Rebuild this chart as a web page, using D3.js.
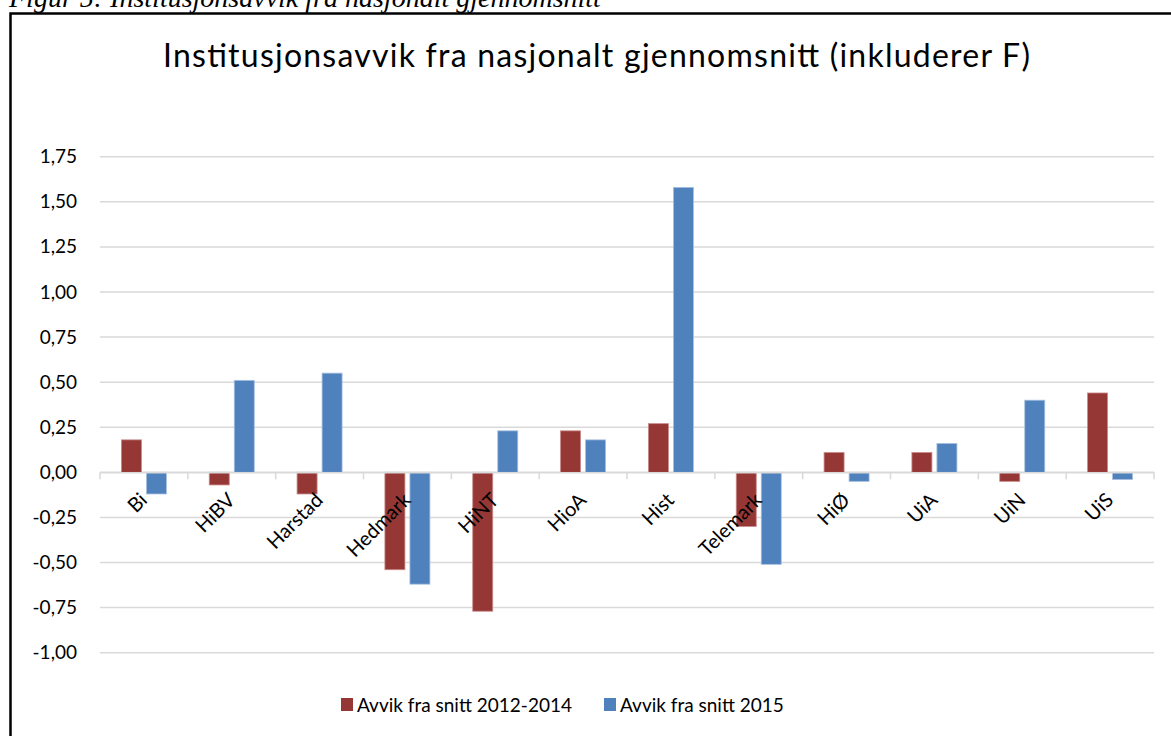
<!DOCTYPE html>
<html>
<head>
<meta charset="utf-8">
<script src="https://cdn.jsdelivr.net/npm/d3@7"></script>
<style>
  html, body { margin: 0; padding: 0; background: #fff; }
  svg { display: block; }
</style>
</head>
<body>
<svg id="chart" width="1171" height="736"></svg>
<script>
const categories = ["Bi", "HiBV", "Harstad", "Hedmark", "HiNT", "HioA", "Hist", "Telemark", "HiØ", "UiA", "UiN", "UiS"];
const seriesNames = ["Avvik fra snitt 2012-2014", "Avvik fra snitt 2015"];
const avvik2012_2014 = [0.18, -0.07, -0.12, -0.54, -0.77, 0.23, 0.27, -0.30, 0.11, 0.11, -0.05, 0.44];
const avvik2015 = [-0.12, 0.51, 0.55, -0.62, 0.23, 0.18, 1.58, -0.51, -0.05, 0.16, 0.40, -0.04];
const yTicks = [1.75, 1.5, 1.25, 1.0, 0.75, 0.5, 0.25, 0, -0.25, -0.5, -0.75, -1.0];
const seriesColors = ["#953735", "#4F81BD"];
const captionText = "Figur 5: Institusjonsavvik fra nasjonalt gjennomsnitt";
const titleText = "Institusjonsavvik fra nasjonalt gjennomsnitt (inkluderer F)";

const svg = d3.select("#chart");
const font = "Lato, 'Open Sans', sans-serif";

// Caption (cut off at top)
svg.append("text")
  .attr("x", 9).attr("y", 6.5)
  .attr("font-family", "'Liberation Serif', 'Times New Roman', serif")
  .attr("font-style", "italic")
  .attr("font-size", 28)
  .attr("fill", "#000")
  .text(captionText);

// Chart border
svg.append("path")
  .attr("d", "M10.5,740 V13.5 H1175")
  .attr("fill", "none").attr("stroke", "#000").attr("stroke-width", 2.5);

const x0 = d3.scaleBand().domain(categories).range([100, 1154]).paddingInner(0).paddingOuter(0);
const x1 = d3.scaleBand().domain([0, 1]).range([0, x0.bandwidth()]).paddingInner(0.2).paddingOuter(0.856);
const y = d3.scaleLinear().domain([-1.0, 1.75]).range([652.7, 156.7]);

// Gridlines
svg.append("g").selectAll("line").data(yTicks).join("line")
  .attr("x1", 100).attr("x2", 1154)
  .attr("y1", d => y(d)).attr("y2", d => y(d))
  .attr("stroke", "#d9d9d9").attr("stroke-width", 1.5);

// Y axis labels
const yAxis = d3.axisLeft(y).tickValues(yTicks).tickSize(0).tickPadding(0)
  .tickFormat(d => d3.format(".2f")(d).replace(".", ",").replace("−", "-"));
const yg = svg.append("g").attr("transform", "translate(77,0)").call(yAxis);
yg.select(".domain").remove();
yg.selectAll("text").attr("font-family", font).attr("font-size", 19).attr("fill", "#000");

// Bars
const data = categories.map((c, i) => ({ c, v: [avvik2012_2014[i], avvik2015[i]] }));
const groups = svg.append("g").selectAll("g").data(data).join("g")
  .attr("transform", d => `translate(${x0(d.c)},0)`);
groups.selectAll("rect").data(d => d.v.map((v, s) => ({ v, s }))).join("rect")
  .attr("x", d => x1(d.s))
  .attr("width", x1.bandwidth())
  .attr("y", d => Math.min(y(0), y(d.v)))
  .attr("height", d => Math.abs(y(d.v) - y(0)))
  .attr("fill", d => seriesColors[d.s])
  .attr("stroke", d => d.s === 0 ? "#c98a89" : "#a7c0df")
  .attr("stroke-width", 0.8);

// X axis line with ticks
const xAxis = d3.axisBottom(x0).tickSize(0).tickFormat("");
const xg = svg.append("g").attr("transform", `translate(0,${y(0)})`).call(xAxis);
xg.select(".domain").attr("stroke", "#d9d9d9").attr("stroke-width", 1.5);
const tickPos = categories.map(c => x0(c)).concat([x0.range()[1]]);
svg.append("g").selectAll("line").data(tickPos).join("line")
  .attr("x1", d => d).attr("x2", d => d)
  .attr("y1", y(0)).attr("y2", y(0) + 7)
  .attr("stroke", "#d9d9d9").attr("stroke-width", 1.5);

// X labels rotated
svg.append("g").selectAll("text").data(categories).join("text")
  .attr("transform", d => `translate(${x0(d) + x0.bandwidth() / 2 + 4.5},${y(0) + 29}) rotate(-45)`)
  .attr("text-anchor", "end")
  .attr("font-family", font).attr("font-size", 20).attr("fill", "#000")
  .text(d => d);

// Title
svg.append("text")
  .attr("x", 163).attr("y", 67)
  .attr("font-family", font).attr("font-size", 32).attr("fill", "#000")
  .attr("textLength", 867).attr("lengthAdjust", "spacing")
  .text(titleText);

// Legend
const legendX = [341, 604];
const lg = svg.append("g").selectAll("g").data(seriesNames).join("g")
  .attr("transform", (d, i) => `translate(${legendX[i]},698)`);
lg.append("rect").attr("width", 12).attr("height", 13).attr("fill", (d, i) => seriesColors[i]);
lg.append("text").attr("x", 16).attr("y", 13.5)
  .attr("font-family", font).attr("font-size", 19).attr("fill", "#000")
  .text(d => d);
</script>
</body>
</html>
